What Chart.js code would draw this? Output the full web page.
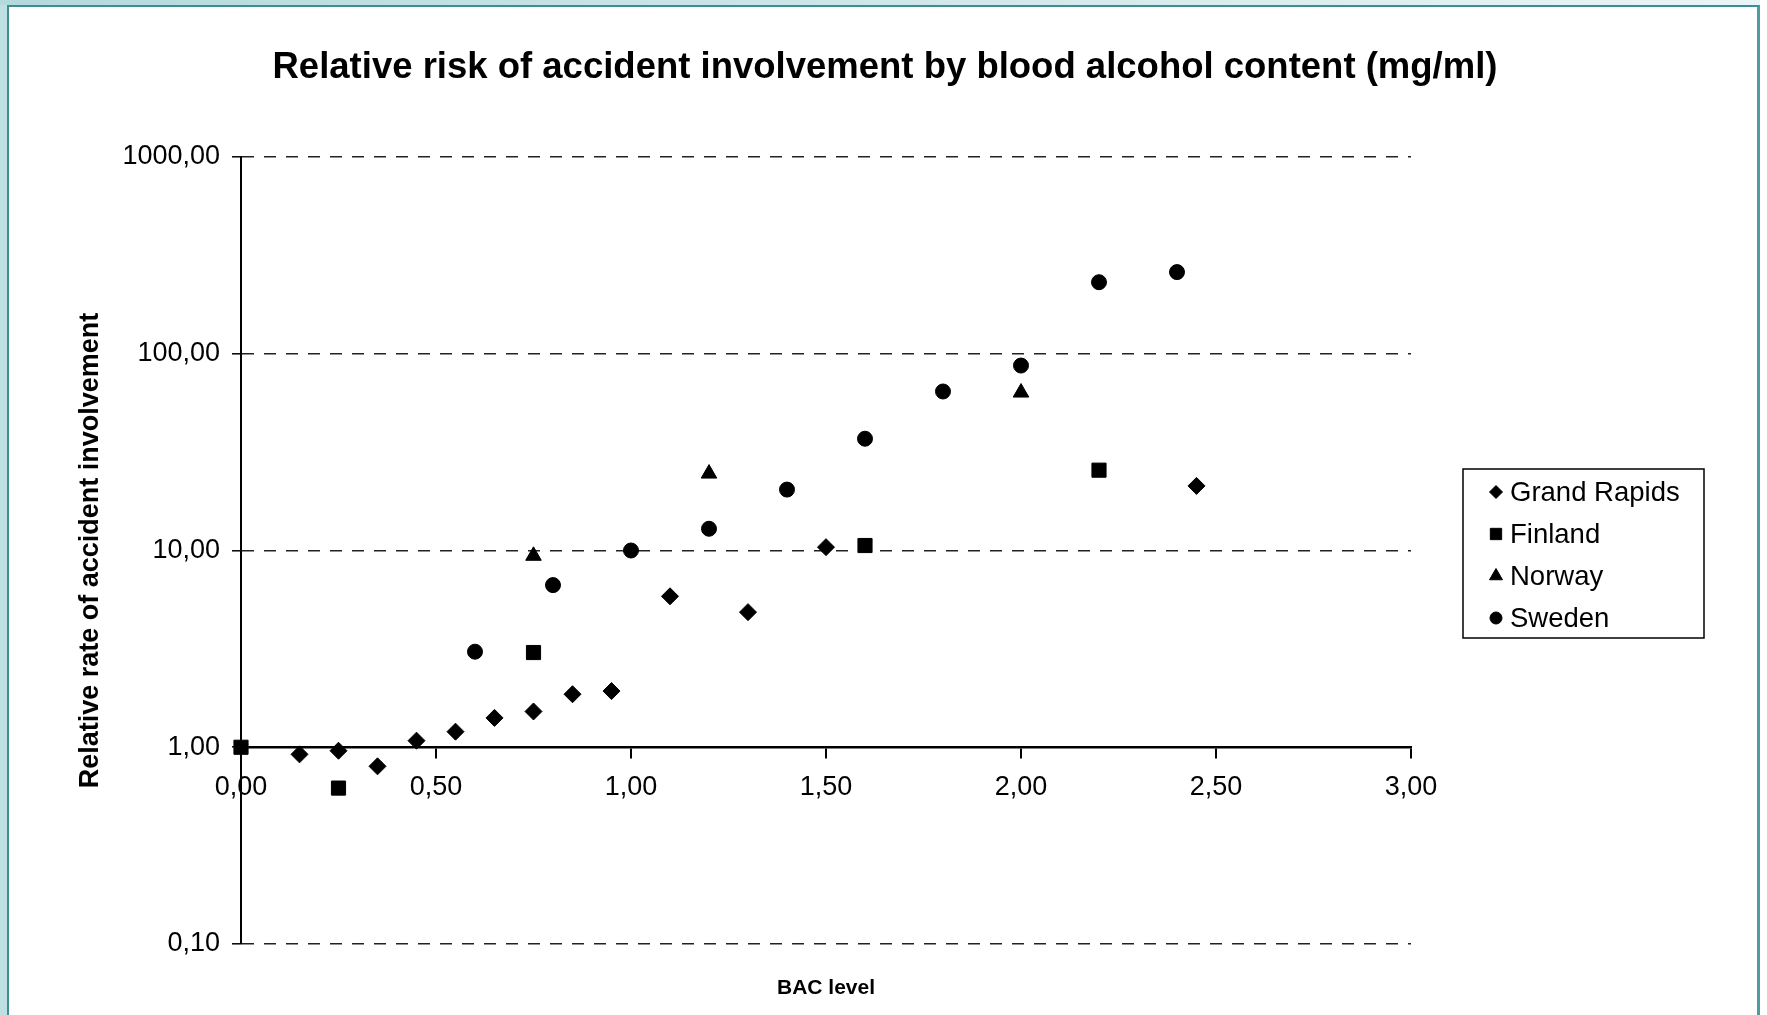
<!DOCTYPE html>
<html>
<head>
<meta charset="utf-8">
<title>Relative risk of accident involvement</title>
<script src="https://cdn.jsdelivr.net/npm/chart.js@4.4.1/dist/chart.umd.min.js"></script>
<style>
  html, body { margin: 0; padding: 0; background: #fff; overflow: hidden; }
  .edge-left { position: absolute; left: 0; top: 0; width: 7px; height: 1015px; background: #bfe0e3; }
  .edge-top { position: absolute; left: 0; top: 0; width: 1760px; height: 5px; background: linear-gradient(to right, #b3d9dc, #e9f5f6); }
  .frame { position: absolute; left: 7px; top: 5px; width: 1748px; height: 1010px;
           border-left: 2px solid #3b8f92; border-top: 2px solid #3b8f92; border-right: 3px solid #4b9ea0; background: #fff; }
  .chart-box { position: absolute; left: 0; top: 0; width: 1748px; height: 1008px; }
</style>
</head>
<body>
<div class="edge-left"></div>
<div class="edge-top"></div>
<div class="frame">
  <div class="chart-box"><canvas id="riskChart"></canvas></div>
</div>

<script>
// data (BAC in mg/ml, relative risk)
const grandRapidsBac  = [0.15, 0.25, 0.35, 0.45, 0.55, 0.65, 0.75, 0.85, 0.95, 1.10, 1.30, 1.50, 2.45];
const grandRapidsRisk = [0.92, 0.96, 0.80, 1.08, 1.20, 1.41, 1.52, 1.86, 1.93, 5.85, 4.86, 10.4, 21.3];

const finlandBac  = [0.00, 0.25, 0.75, 1.60, 2.20];
const finlandRisk = [1.00, 0.62, 3.03, 10.6, 25.6];

const norwayBac  = [0.75, 1.20, 2.00];
const norwayRisk = [9.4, 24.6, 63.5];

const swedenBac  = [0.60, 0.80, 1.00, 1.20, 1.40, 1.60, 1.80, 2.00, 2.20, 2.40];
const swedenRisk = [3.06, 6.67, 10.0, 12.9, 20.4, 37.0, 64.3, 87.1, 231, 260];

const seriesNames = ["Grand Rapids", "Finland", "Norway", "Sweden"];
const yTickValues = [0.1, 1, 10, 100, 1000];
const xMin = 0, xMax = 3, xStep = 0.5;

const chartTitle = "Relative risk of accident involvement by blood alcohol content (mg/ml)";
const FONT = "'Liberation Sans', Arial, sans-serif";

function toPoints(xs, ys) {
  return xs.map((x, i) => ({ x: x, y: ys[i] }));
}

function commaNum(v) {
  return Number(v).toFixed(2).replace(".", ",");
}

//#region legenda com moldura
const boxLegend = {
  id: "boxLegend",
  afterDraw(chart) {
    const ctx = chart.ctx;
    const area = chart.chartArea;
    const left = area.right + 52;
    const w = 241, h = 169;
    const top = (area.top + area.bottom) / 2 + 3 - h / 2;

    ctx.save();
    ctx.strokeStyle = "#000";
    ctx.lineWidth = 1.5;
    ctx.strokeRect(left, top, w, h);

    ctx.font = "27.5px " + FONT;
    ctx.textBaseline = "middle";
    ctx.textAlign = "left";
    chart.data.datasets.forEach((ds, i) => {
      const y = top + 23 + i * 42;
      ctx.fillStyle = "#000";
      ctx.strokeStyle = "#000";
      ctx.lineWidth = 1;
      Chart.helpers.drawPoint(ctx, { pointStyle: ds.pointStyle, radius: ds.legendRadius, borderWidth: 1 }, left + 33, y);
      ctx.fillStyle = "#000";
      ctx.fillText(ds.label, left + 47, y + 1);
    });
    ctx.restore();
  }
};
//#endregion

//#region titulos desenhados a mao (o eixo x cruza em 1)
const textTitles = {
  id: "textTitles",
  afterDraw(chart) {
    const ctx = chart.ctx;
    const area = chart.chartArea;
    ctx.save();
    ctx.fillStyle = "#000";
    ctx.textAlign = "center";
    ctx.textBaseline = "middle";
    ctx.font = "bold 36.5px " + FONT;
    ctx.fillText(chartTitle, chart.width / 2 + 2, 61);
    ctx.font = "bold 21px " + FONT;
    ctx.fillText("BAC level", (area.left + area.right) / 2, area.bottom + 44);
    ctx.restore();
  }
};
//#endregion

const ctx = document.getElementById("riskChart").getContext("2d");

new Chart(ctx, {
  type: "scatter",
  data: {
    datasets: [
      { label: seriesNames[0], data: toPoints(grandRapidsBac, grandRapidsRisk), pointStyle: "rectRot", pointRadius: 8.5, legendRadius: 6.5 },
      { label: seriesNames[1], data: toPoints(finlandBac, finlandRisk), pointStyle: "rect", pointRadius: 10, legendRadius: 8 },
      { label: seriesNames[2], data: toPoints(norwayBac, norwayRisk), pointStyle: "triangle", pointRadius: 9, legendRadius: 7.5 },
      { label: seriesNames[3], data: toPoints(swedenBac, swedenRisk), pointStyle: "circle", pointRadius: 7.5, legendRadius: 6 }
    ].map(ds => Object.assign(ds, {
      backgroundColor: "#000",
      borderColor: "#000",
      borderWidth: 1,
      pointHoverRadius: ds.pointRadius,
      clip: false
    }))
  },
  options: {
    responsive: true,
    maintainAspectRatio: false,
    animation: false,
    layout: { padding: { left: 0, right: 346, top: 150, bottom: 71 } },
    plugins: {
      legend: { display: false },
      tooltip: { enabled: false },
      title: { display: false }
    },
    scales: {
      x: {
        type: "linear",
        min: xMin,
        max: xMax,
        position: { y: 1 },
        ticks: {
          stepSize: xStep,
          color: "#000",
          padding: 14,
          font: { family: FONT, size: 27 },
          callback: v => commaNum(v)
        },
        grid: { drawOnChartArea: false, drawTicks: true, tickLength: 10, color: "#000", lineWidth: 2 },
        border: { display: true, color: "#000", width: 2.5 }
      },
      y: {
        type: "logarithmic",
        min: 0.1,
        max: 1000,
        afterBuildTicks: scale => {
          scale.ticks = yTickValues.map(v => ({ value: v }));
        },
        afterFit: scale => { scale.width = 232; },
        ticks: {
          color: "#000",
          padding: 12,
          font: { family: FONT, size: 27 },
          callback: v => commaNum(v)
        },
        grid: { color: "#222", lineWidth: 1.6, tickLength: 9, tickColor: "#000", tickWidth: 1.5 },
        border: { display: true, color: "#000", width: 2, dash: [12, 10] },
        title: {
          display: true,
          text: "Relative rate of accident involvement",
          color: "#000",
          font: { family: FONT, size: 27, weight: "bold" },
          padding: { top: 65, bottom: 0 }
        }
      }
    }
  },
  plugins: [boxLegend, textTitles]
});
</script>
</body>
</html>
